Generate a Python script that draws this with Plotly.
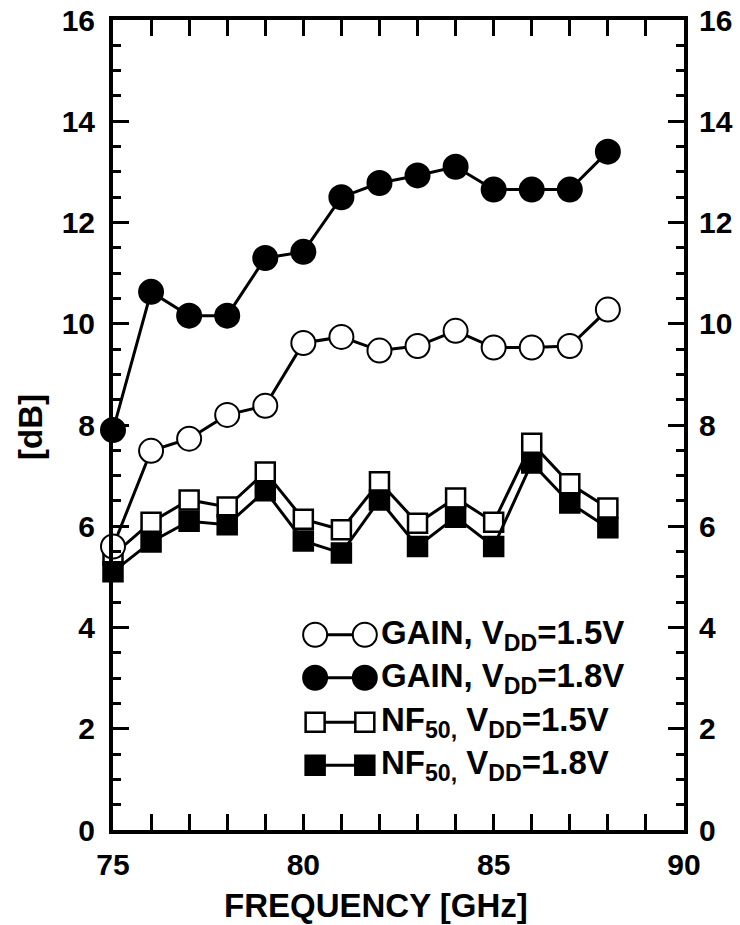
import plotly.graph_objects as go

freq = [75, 76, 77, 78, 79, 80, 81, 82, 83, 84, 85, 86, 87, 88]
gain_15 = [5.6, 7.49, 7.73, 8.2, 8.38, 9.62, 9.74, 9.47, 9.56, 9.86, 9.53, 9.53, 9.56, 10.28]
gain_18 = [7.9, 10.63, 10.16, 10.16, 11.3, 11.42, 12.5, 12.78, 12.93, 13.1, 12.65, 12.65, 12.65, 13.4]
nf_15 = [5.43, 6.08, 6.52, 6.38, 7.07, 6.14, 5.93, 6.88, 6.06, 6.56, 6.08, 7.64, 6.84, 6.36]
nf_18 = [5.1, 5.69, 6.1, 6.03, 6.7, 5.71, 5.47, 6.52, 5.6, 6.18, 5.6, 7.25, 6.46, 5.97]

x_ticks = [75, 80, 85, 90]
y_ticks = [0, 2, 4, 6, 8, 10, 12, 14, 16]

legend_labels = [
    "GAIN, V<sub>DD</sub>=1.5V",
    "GAIN, V<sub>DD</sub>=1.8V",
    "NF<sub>50,</sub> V<sub>DD</sub>=1.5V",
    "NF<sub>50,</sub> V<sub>DD</sub>=1.8V",
]
x_title = "FREQUENCY [GHz]"
y_title = "[dB]"

FONT = "Liberation Sans"
LW = 3

styles = [
    dict(symbol="circle", size=24, color="white", lw=2),
    dict(symbol="circle", size=24, color="black", lw=2),
    dict(symbol="square", size=19, color="white", lw=2.5),
    dict(symbol="square", size=19, color="black", lw=2.5),
]
series = [gain_15, gain_18, nf_15, nf_18]

fig = go.Figure()
order = [2, 3, 0, 1]
for i in order:
    s = styles[i]
    fig.add_trace(go.Scatter(
        x=freq, y=series[i], mode="lines+markers",
        line=dict(color="black", width=LW),
        marker=dict(symbol=s["symbol"], size=s["size"], color=s["color"],
                    line=dict(color="black", width=s["lw"])),
        cliponaxis=False, showlegend=False, hoverinfo="skip"))

# dummy trace so the right-hand axis renders
fig.add_trace(go.Scatter(x=[75], y=[0], yaxis="y2", mode="markers",
                         marker=dict(opacity=0), showlegend=False, hoverinfo="skip"))

# custom legend on overlay axes in [0,1] units
leg_x = [0.354, 0.441]
leg_y = [0.241, 0.188, 0.133, 0.080]
for i, s in enumerate(styles):
    fig.add_trace(go.Scatter(
        x=leg_x, y=[leg_y[i], leg_y[i]], xaxis="x2", yaxis="y3",
        mode="lines+markers", line=dict(color="black", width=LW),
        marker=dict(symbol=s["symbol"], size=s["size"], color=s["color"],
                    line=dict(color="black", width=s["lw"])),
        cliponaxis=False, showlegend=False, hoverinfo="skip"))
    fig.add_annotation(x=0.466, y=leg_y[i], xref="x2", yref="y3",
                       text="<b>" + legend_labels[i].replace("<sub>", "<sub><b>").replace("</sub>", "</b></sub>") + "</b>",
                       showarrow=False, xanchor="left", yanchor="middle",
                       font=dict(family=FONT, size=33, color="black"))

tickfont = dict(family=FONT, size=30, color="black", weight="bold")
xtt = ["<b>%d</b>" % v for v in x_ticks]
ytt = ["<b>%d</b>" % v for v in y_ticks]

fig.update_layout(
    width=740, height=925,
    margin=dict(l=113, r=56, t=20, b=95, autoexpand=False),
    plot_bgcolor="white", paper_bgcolor="white",
    showlegend=False,
    xaxis=dict(range=[75, 90], tickmode="array", tickvals=x_ticks, ticktext=xtt,
               ticks="inside", ticklen=16, automargin=False,
               tickwidth=3, tickcolor="black", showline=True, linewidth=4,
               linecolor="black", mirror="allticks", showgrid=False, zeroline=False,
               tickfont=tickfont, ticklabelstandoff=5,
               minor=dict(dtick=1, tick0=75, ticks="inside", ticklen=8, tickwidth=3,
                          tickcolor="black", showgrid=False)),
    yaxis=dict(range=[0, 16], tickmode="array", tickvals=y_ticks, ticktext=ytt,
               ticks="inside", ticklen=16, automargin=False,
               tickwidth=3, tickcolor="black", showline=True, linewidth=4,
               linecolor="black", mirror="allticks", showgrid=False, zeroline=False,
               tickfont=tickfont, ticklabelstandoff=8,
               minor=dict(dtick=0.5, tick0=0, ticks="inside", ticklen=8, tickwidth=3,
                          tickcolor="black", showgrid=False)),
    yaxis2=dict(range=[0, 16], tickmode="array", tickvals=y_ticks, ticktext=ytt,
                overlaying="y", side="right", automargin=False,
                ticks="", showline=False, showgrid=False, zeroline=False,
                tickfont=tickfont, ticklabelstandoff=14),
    xaxis2=dict(range=[0, 1], overlaying="x", visible=False),
    yaxis3=dict(range=[0, 1], overlaying="y", visible=False),
)

fig.add_annotation(x=0.4606, y=-0.0926, xref="paper", yref="paper",
                   text="<b>" + x_title + "</b>",
                   showarrow=False, xanchor="center", yanchor="middle",
                   font=dict(family=FONT, size=33, color="black"))
fig.add_annotation(x=-0.1454, y=0.4975, xref="paper", yref="paper",
                   text="<b>" + y_title + "</b>",
                   showarrow=False, textangle=-90, xanchor="center", yanchor="middle",
                   font=dict(family=FONT, size=33, color="black"))

fig.write_html("out.html")
